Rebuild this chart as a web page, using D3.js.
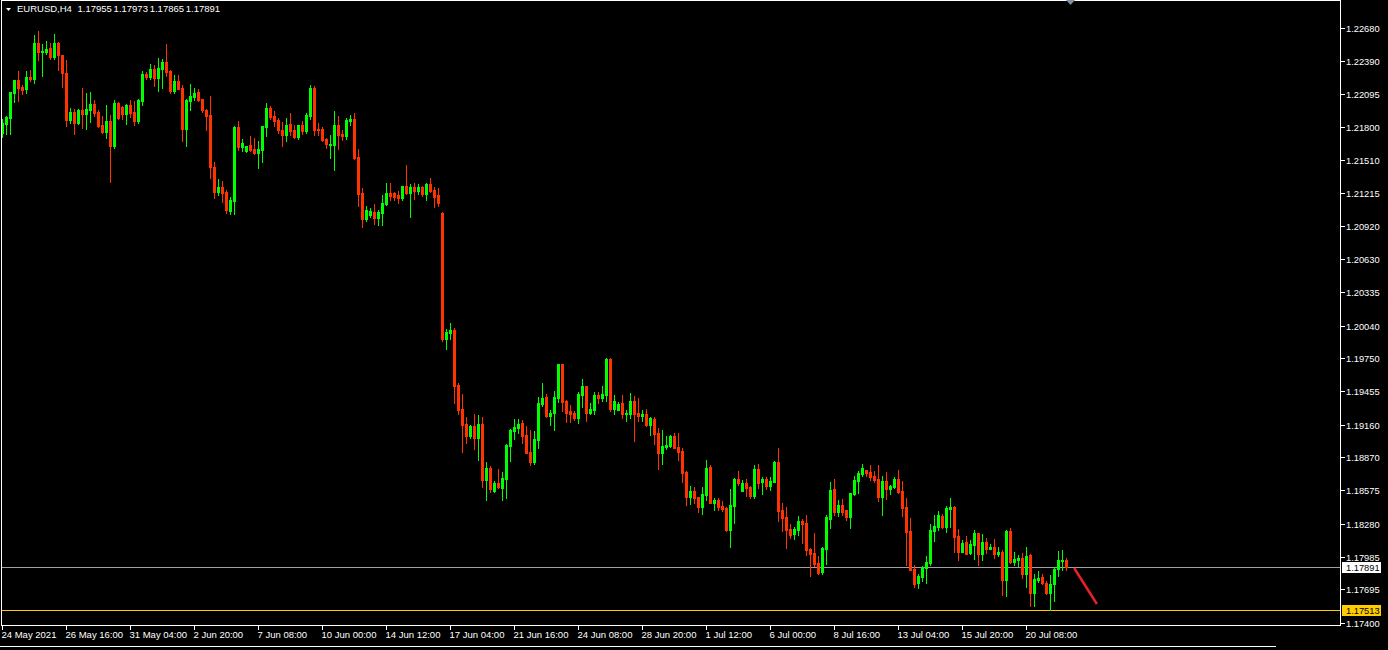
<!DOCTYPE html>
<html><head><meta charset="utf-8">
<script src="https://cdn.jsdelivr.net/npm/d3@7"></script>
<style>
html,body{margin:0;padding:0;background:#000;overflow:hidden}
svg{display:block}
text{font-family:"Liberation Sans",Arial,sans-serif;fill:#fff}
</style>
</head><body><svg id="c" width="1388" height="650"></svg>
<script>
const symbolTitle = "EURUSD,H4";
const headerValues = ["1.17955","1.17973","1.17865","1.17891"];
const timeLabels = ["24 May 2021","26 May 16:00","31 May 04:00","2 Jun 20:00","7 Jun 08:00","10 Jun 00:00","14 Jun 12:00","17 Jun 04:00","21 Jun 16:00","24 Jun 08:00","28 Jun 20:00","1 Jul 12:00","6 Jul 00:00","8 Jul 16:00","13 Jul 04:00","15 Jul 20:00","20 Jul 08:00"];
const timeLabelStep = 16;
const priceTicks = [1.22680,1.22390,1.22095,1.21800,1.21510,1.21215,1.20920,1.20630,1.20335,1.20040,1.19750,1.19455,1.19160,1.18870,1.18575,1.18280,1.17985,1.17695,1.17400];
const bidPrice = 1.17891;
const levelPrice = 1.17513;
const trendIdx = [267.9, 273.6];
const trendPrice = [1.17886, 1.17566];

const opens = [1.21749,1.21828,1.21882,1.22104,1.22217,1.22158,1.22140,1.22246,1.22228,1.22548,
1.22468,1.22468,1.22504,1.22424,1.22548,1.22442,1.22281,1.21864,1.21935,1.21837,
1.21953,1.21917,1.21953,1.22006,1.21935,1.21820,1.21758,1.21855,1.21634,1.22015,
1.21980,1.21917,1.21998,1.21935,1.21855,1.22033,1.22272,1.22246,1.22317,1.22237,
1.22317,1.22379,1.22299,1.22122,1.22211,1.22149,1.21784,1.22033,1.22069,1.22113,
1.22051,1.21953,1.21909,1.21447,1.21225,1.21270,1.21225,1.21056,1.21145,1.21802,
1.21625,1.21589,1.21643,1.21607,1.21571,1.21598,1.21802,1.21971,1.21900,1.21864,
1.21776,1.21731,1.21828,1.21776,1.21714,1.21820,1.21767,1.21900,1.22149,1.21784,
1.21784,1.21696,1.21643,1.21643,1.21820,1.21740,1.21722,1.21855,1.21873,1.21536,
1.21216,1.20985,1.21021,1.21047,1.20994,1.21038,1.21118,1.21216,1.21216,1.21199,
1.21172,1.21278,1.21216,1.21270,1.21234,1.21270,1.21207,1.21296,1.21243,1.21199,
1.21038,1.19920,1.19973,1.20000,1.19511,1.19298,1.19165,1.19059,1.19147,1.19041,
1.19165,1.18668,1.18774,1.18570,1.18641,1.18597,1.18677,1.18970,1.19103,1.19129,
1.19173,1.19067,1.18916,1.18827,1.19023,1.19342,1.19405,1.19236,1.19262,1.19396,
1.19698,1.19369,1.19280,1.19262,1.19218,1.19422,1.19502,1.19262,1.19289,1.19422,
1.19396,1.19422,1.19742,1.19298,1.19289,1.19351,1.19253,1.19253,1.19369,1.19262,
1.19236,1.19253,1.19156,1.19209,1.19085,1.18907,1.18961,1.18970,1.19059,1.18961,
1.18925,1.18739,1.18517,1.18570,1.18517,1.18428,1.18534,1.18783,1.18463,1.18490,
1.18437,1.18419,1.18224,1.18437,1.18677,1.18570,1.18641,1.18606,1.18526,1.18765,
1.18650,1.18677,1.18615,1.18650,1.18827,1.18401,1.18339,1.18233,1.18189,1.18224,
1.18303,1.18285,1.18055,1.18020,1.17931,1.17851,1.18055,1.18321,1.18588,1.18384,
1.18446,1.18401,1.18339,1.18543,1.18659,1.18721,1.18756,1.18739,1.18703,1.18677,
1.18517,1.18659,1.18588,1.18606,1.18677,1.18570,1.18428,1.18215,1.17877,1.17753,
1.17806,1.17886,1.17931,1.18215,1.18251,1.18348,1.18251,1.18410,1.18428,1.18171,
1.18029,1.18118,1.18020,1.18091,1.18197,1.18011,1.18118,1.18055,1.18073,1.18011,
1.18029,1.17780,1.18215,1.17940,1.17957,1.17975,1.17833,1.18002,1.17664,1.17780,
1.17806,1.17753,1.17664,1.17744,1.17877,1.17948,1.17955];

const highs = [1.21873,1.21900,1.22116,1.22220,1.22299,1.22176,1.22299,1.22308,1.22620,1.22655,
1.22539,1.22566,1.22548,1.22628,1.22557,1.22446,1.22397,1.21971,1.21962,1.21962,
1.22149,1.22104,1.22113,1.22042,1.21953,1.21900,1.21998,1.21909,1.22042,1.22021,
1.21989,1.22006,1.22042,1.22033,1.22051,1.22299,1.22290,1.22361,1.22353,1.22415,
1.22406,1.22539,1.22308,1.22264,1.22264,1.22176,1.22051,1.22184,1.22149,1.22140,
1.22055,1.21962,1.22078,1.21491,1.21340,1.21323,1.21243,1.21181,1.21811,1.21855,
1.21696,1.21638,1.21722,1.21705,1.21678,1.21815,1.22015,1.21989,1.21944,1.21882,
1.21846,1.21882,1.21926,1.21820,1.21824,1.21855,1.21926,1.22176,1.22167,1.21837,
1.21802,1.21705,1.21731,1.21944,1.21900,1.21776,1.21882,1.21909,1.21926,1.21607,
1.21261,1.21101,1.21083,1.21118,1.21065,1.21199,1.21305,1.21305,1.21225,1.21234,
1.21283,1.21465,1.21296,1.21305,1.21296,1.21278,1.21305,1.21349,1.21270,1.21261,
1.21047,1.20009,1.20062,1.20018,1.19529,1.19431,1.19227,1.19156,1.19253,1.19244,
1.19227,1.18827,1.18792,1.18659,1.18765,1.18739,1.18983,1.19121,1.19209,1.19209,
1.19200,1.19147,1.19112,1.19103,1.19405,1.19529,1.19431,1.19289,1.19458,1.19702,
1.19702,1.19378,1.19334,1.19280,1.19449,1.19565,1.19506,1.19351,1.19449,1.19449,
1.19502,1.19751,1.19751,1.19422,1.19360,1.19422,1.19289,1.19440,1.19413,1.19396,
1.19289,1.19298,1.19227,1.19227,1.19129,1.19112,1.19059,1.19067,1.19085,1.19085,
1.18952,1.18748,1.18615,1.18606,1.18521,1.18606,1.18845,1.18800,1.18508,1.18508,
1.18481,1.18428,1.18588,1.18686,1.18748,1.18668,1.18677,1.18610,1.18800,1.18809,
1.18695,1.18695,1.18695,1.18836,1.18952,1.18463,1.18428,1.18277,1.18251,1.18348,
1.18321,1.18357,1.18064,1.18197,1.17993,1.18073,1.18357,1.18650,1.18677,1.18490,
1.18499,1.18405,1.18556,1.18703,1.18748,1.18809,1.18760,1.18800,1.18748,1.18800,
1.18703,1.18739,1.18624,1.18695,1.18756,1.18659,1.18508,1.18330,1.17913,1.17833,
1.17904,1.17993,1.18277,1.18357,1.18392,1.18362,1.18437,1.18508,1.18437,1.18233,
1.18135,1.18171,1.18135,1.18224,1.18201,1.18189,1.18153,1.18100,1.18144,1.18073,
1.18046,1.18224,1.18242,1.18029,1.18002,1.18020,1.18073,1.18006,1.17833,1.17860,
1.17833,1.17771,1.17824,1.17895,1.18037,1.18046,1.17973];

const lows = [1.21714,1.21740,1.21740,1.22024,1.22033,1.22095,1.22104,1.22211,1.22193,1.22397,
1.22255,1.22450,1.22406,1.22406,1.22308,1.22158,1.21811,1.21837,1.21740,1.21828,
1.21793,1.21784,1.21846,1.21900,1.21802,1.21749,1.21705,1.21314,1.21616,1.21878,
1.21873,1.21828,1.21891,1.21820,1.21837,1.21998,1.22228,1.22228,1.22167,1.22122,
1.22149,1.22255,1.22104,1.22104,1.22138,1.21678,1.21634,1.21953,1.22042,1.22036,
1.21935,1.21776,1.21349,1.21172,1.21199,1.21136,1.21038,1.21029,1.21029,1.21598,
1.21589,1.21585,1.21589,1.21567,1.21438,1.21491,1.21722,1.21873,1.21811,1.21749,
1.21634,1.21678,1.21731,1.21705,1.21696,1.21740,1.21749,1.21873,1.21731,1.21735,
1.21678,1.21616,1.21527,1.21420,1.21607,1.21687,1.21696,1.21820,1.21518,1.21101,
1.20914,1.20967,1.21003,1.20941,1.20932,1.20932,1.21110,1.21154,1.21154,1.21127,
1.21154,1.21207,1.21003,1.21163,1.21212,1.21190,1.21154,1.21225,1.21092,1.21101,
1.19902,1.19831,1.19920,1.19351,1.19253,1.18916,1.18996,1.19041,1.18943,1.18845,
1.18606,1.18490,1.18561,1.18562,1.18600,1.18490,1.18508,1.18836,1.19032,1.19085,
1.18996,1.18903,1.18800,1.18809,1.18952,1.19325,1.19227,1.19156,1.19112,1.19360,
1.19280,1.19182,1.19182,1.19200,1.19173,1.19316,1.19191,1.19253,1.19258,1.19351,
1.19369,1.19369,1.19280,1.19253,1.19285,1.19218,1.19191,1.19218,1.19014,1.19191,
1.19191,1.19147,1.19067,1.18987,1.18765,1.18809,1.18943,1.18961,1.18948,1.18845,
1.18650,1.18446,1.18455,1.18463,1.18384,1.18366,1.18490,1.18459,1.18401,1.18401,
1.18392,1.18215,1.18073,1.18285,1.18624,1.18566,1.18526,1.18508,1.18508,1.18597,
1.18543,1.18588,1.18579,1.18646,1.18303,1.18215,1.18064,1.18153,1.18144,1.18180,
1.18109,1.18002,1.17815,1.17904,1.17833,1.17833,1.17922,1.18242,1.18357,1.18348,
1.18357,1.18312,1.18242,1.18534,1.18552,1.18703,1.18703,1.18668,1.18650,1.18481,
1.18357,1.18499,1.18543,1.18595,1.18552,1.18348,1.17913,1.17864,1.17718,1.17709,
1.17771,1.17753,1.17913,1.18126,1.18220,1.18242,1.18206,1.18251,1.18029,1.17957,
1.18025,1.18007,1.18011,1.17966,1.17913,1.17957,1.18020,1.18051,1.17975,1.17993,
1.17646,1.17638,1.17931,1.17913,1.17904,1.17798,1.17718,1.17549,1.17549,1.17762,
1.17744,1.17655,1.17513,1.17593,1.17815,1.17868,1.17865];

const closes = [1.21837,1.21891,1.22110,1.22217,1.22149,1.22131,1.22246,1.22228,1.22548,1.22468,
1.22477,1.22495,1.22424,1.22548,1.22442,1.22281,1.21864,1.21935,1.21837,1.21953,
1.21917,1.21962,1.22006,1.21926,1.21811,1.21758,1.21855,1.21634,1.22015,1.21882,
1.21917,1.21998,1.21926,1.21855,1.22042,1.22272,1.22246,1.22317,1.22237,1.22326,
1.22379,1.22290,1.22122,1.22211,1.22140,1.21784,1.22042,1.22078,1.22104,1.22042,
1.21953,1.21900,1.21447,1.21225,1.21270,1.21216,1.21065,1.21154,1.21802,1.21625,
1.21660,1.21634,1.21598,1.21571,1.21607,1.21811,1.21971,1.21891,1.21855,1.21776,
1.21731,1.21820,1.21767,1.21714,1.21820,1.21767,1.21909,1.22149,1.21776,1.21776,
1.21687,1.21651,1.21651,1.21820,1.21731,1.21722,1.21864,1.21873,1.21527,1.21207,
1.20985,1.21065,1.21056,1.20994,1.21047,1.21127,1.21216,1.21190,1.21181,1.21172,
1.21278,1.21216,1.21270,1.21234,1.21270,1.21207,1.21296,1.21234,1.21181,1.21127,
1.19920,1.19982,1.20000,1.19502,1.19289,1.19156,1.19059,1.19147,1.19041,1.19165,
1.18668,1.18774,1.18588,1.18641,1.18606,1.18686,1.18979,1.19112,1.19138,1.19165,
1.19059,1.18907,1.18827,1.19032,1.19351,1.19396,1.19236,1.19262,1.19405,1.19698,
1.19360,1.19262,1.19253,1.19218,1.19431,1.19502,1.19262,1.19298,1.19422,1.19396,
1.19431,1.19742,1.19298,1.19369,1.19343,1.19253,1.19262,1.19369,1.19253,1.19236,
1.19253,1.19156,1.19218,1.19076,1.18907,1.18970,1.18979,1.19059,1.18952,1.18916,
1.18730,1.18517,1.18570,1.18508,1.18428,1.18543,1.18774,1.18463,1.18490,1.18428,
1.18410,1.18224,1.18446,1.18677,1.18641,1.18641,1.18597,1.18526,1.18765,1.18641,
1.18677,1.18615,1.18659,1.18827,1.18392,1.18330,1.18224,1.18180,1.18233,1.18303,
1.18277,1.18046,1.18011,1.17922,1.17842,1.18064,1.18339,1.18579,1.18384,1.18446,
1.18384,1.18339,1.18552,1.18668,1.18730,1.18774,1.18730,1.18695,1.18668,1.18517,
1.18659,1.18588,1.18615,1.18677,1.18561,1.18419,1.18206,1.17868,1.17744,1.17815,
1.17895,1.17940,1.18224,1.18259,1.18357,1.18251,1.18419,1.18428,1.18162,1.18029,
1.18109,1.18011,1.18100,1.18197,1.18011,1.18118,1.18055,1.18073,1.18011,1.18029,
1.17780,1.18215,1.17940,1.17966,1.17975,1.17833,1.17993,1.17664,1.17789,1.17798,
1.17753,1.17664,1.17744,1.17877,1.17957,1.17957,1.17891];

const W = 1388, H = 650;
const plotRight = 1340.5, plotBottom = 625.5;
const svg = d3.select("#c");
svg.append("rect").attr("width", W).attr("height", H).attr("fill", "#000");

const n = opens.length;
const x = d3.scaleLinear().domain([0, n - 1]).range([2.5, 2.5 + 4 * (n - 1)]);
const y = d3.scaleLinear().domain([1.17400, 1.22680]).range([622.7, 28.3]);
const ry = v => Math.round(y(v));

const data = d3.range(n).map(i => ({i, o: opens[i], h: highs[i], l: lows[i], c: closes[i]}));
const bull = "#00ff00", bear = "#ff3300";

const g = svg.append("g").attr("shape-rendering", "crispEdges");

// horizontal levels
g.append("line").attr("x1", 1).attr("x2", plotRight).attr("y1", ry(bidPrice) + 0.5).attr("y2", ry(bidPrice) + 0.5)
  .attr("stroke", "#a0a0a8").attr("stroke-width", 1);
g.append("line").attr("x1", 1).attr("x2", plotRight).attr("y1", ry(levelPrice) + 0.5).attr("y2", ry(levelPrice) + 0.5)
  .attr("stroke", "#ffcc00").attr("stroke-width", 1);

// wicks
g.selectAll("rect.wick").data(data).join("rect").attr("class", "wick")
  .attr("x", d => Math.round(x(d.i) - 0.5))
  .attr("y", d => ry(d.h))
  .attr("width", 1)
  .attr("height", d => Math.max(1, ry(d.l) - ry(d.h) + 1))
  .attr("fill", d => d.c >= d.o ? bull : bear);

// bodies
g.selectAll("rect.body").data(data).join("rect").attr("class", "body")
  .attr("x", d => Math.round(x(d.i) - 1.5))
  .attr("y", d => ry(Math.max(d.o, d.c)))
  .attr("width", 3)
  .attr("height", d => Math.max(1, ry(Math.min(d.o, d.c)) - ry(Math.max(d.o, d.c)) + 1))
  .attr("fill", d => d.c >= d.o ? bull : bear);

// trend line
svg.append("line")
  .attr("x1", x(trendIdx[0])).attr("y1", y(trendPrice[0]))
  .attr("x2", x(trendIdx[1])).attr("y2", y(trendPrice[1]))
  .attr("stroke", "#e8202a").attr("stroke-width", 2.5);

// frame
g.append("rect").attr("x", 1.5).attr("y", 0.5).attr("width", plotRight - 1.5).attr("height", plotBottom - 0.5)
  .attr("fill", "none").attr("stroke", "#fff").attr("stroke-width", 1);

// shift marker
svg.append("path").attr("d", "M1066,0 L1075,0 L1070.5,5 Z").attr("fill", "#8090a0");

// price axis
const pa = svg.append("g");
priceTicks.forEach(v => {
  const yy = ry(v);
  pa.append("line").attr("x1", plotRight).attr("x2", plotRight + 4).attr("y1", yy + 0.5).attr("y2", yy + 0.5)
    .attr("stroke", "#fff").attr("shape-rendering", "crispEdges");
  pa.append("text").attr("x", 1346).attr("y", yy + 3.8).attr("font-size", "9.3px").text(v.toFixed(5));
});

// price label boxes
function priceBox(v, bg) {
  const yy = ry(v);
  pa.append("rect").attr("x", 1342).attr("y", yy - 5).attr("width", 39).attr("height", 11).attr("fill", bg)
    .attr("shape-rendering", "crispEdges");
  pa.append("text").attr("x", 1346).attr("y", yy + 3.8).attr("font-size", "9.3px").style("fill", "#000").text(v.toFixed(5));
}
priceBox(bidPrice, "#ffffff");
priceBox(levelPrice, "#ffcc00");

// time axis
const ta = svg.append("g");
timeLabels.forEach((t, k) => {
  const xx = Math.round(x(k * timeLabelStep) - 0.5) + 0.5;
  ta.append("line").attr("x1", xx).attr("x2", xx).attr("y1", plotBottom).attr("y2", plotBottom + 4)
    .attr("stroke", "#fff").attr("shape-rendering", "crispEdges");
  ta.append("text").attr("x", xx - 1).attr("y", 638).attr("font-size", "9.5px").text(t);
});

// bottom status line
svg.append("line").attr("x1", 0).attr("x2", 1276).attr("y1", 646.5).attr("y2", 646.5)
  .attr("stroke", "#fff").attr("shape-rendering", "crispEdges");

// header
svg.append("path").attr("d", "M6,8 L11,8 L8.5,11 Z").attr("fill", "#fff");
svg.append("text").attr("x", 17).attr("y", 12).attr("font-size", "9.5px").text(symbolTitle);
headerValues.forEach((v, k) => {
  svg.append("text").attr("x", 77.5 + k * 36.1).attr("y", 12).attr("font-size", "9.5px").text(v);
});
</script>
</body></html>
